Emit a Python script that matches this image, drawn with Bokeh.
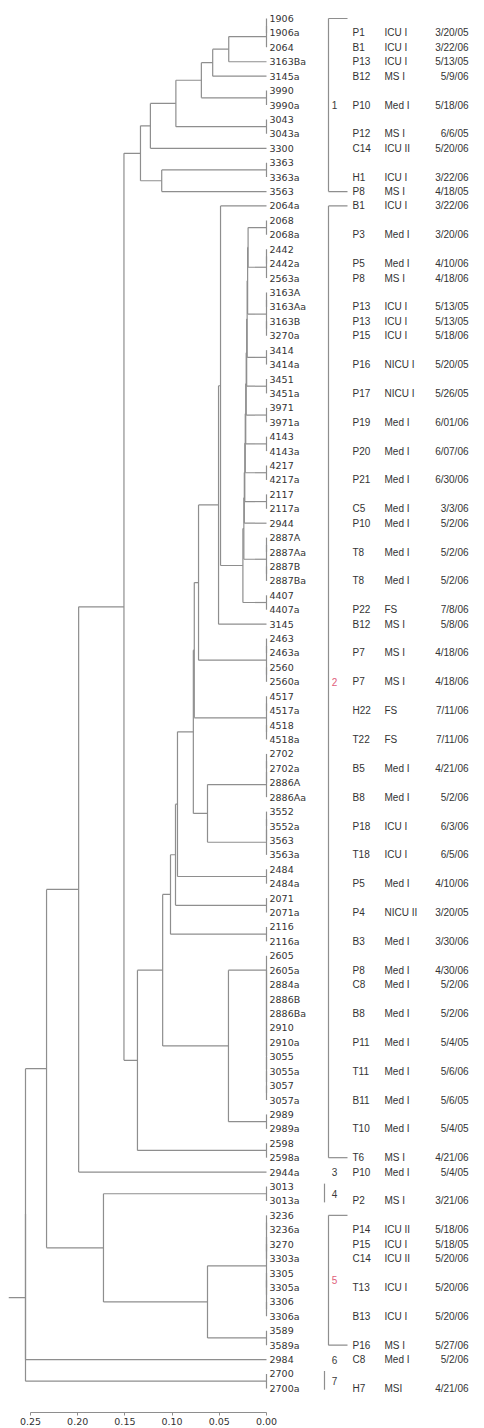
from bokeh.plotting import figure
from bokeh.models import Range1d, FixedTicker, PrintfTickFormatter
from bokeh.core.properties import value
from bokeh.embed import file_html
from bokeh.resources import INLINE

# ---------------- data ----------------
LEAVES = ["1906", "1906a", "2064", "3163Ba", "3145a", "3990", "3990a", "3043", "3043a", "3300",
          "3363", "3363a", "3563", "2064a", "2068", "2068a", "2442", "2442a", "2563a", "3163A",
          "3163Aa", "3163B", "3270a", "3414", "3414a", "3451", "3451a", "3971", "3971a", "4143",
          "4143a", "4217", "4217a", "2117", "2117a", "2944", "2887A", "2887Aa", "2887B", "2887Ba",
          "4407", "4407a", "3145", "2463", "2463a", "2560", "2560a", "4517", "4517a", "4518",
          "4518a", "2702", "2702a", "2886A", "2886Aa", "3552", "3552a", "3563", "3563a", "2484",
          "2484a", "2071", "2071a", "2116", "2116a", "2605", "2605a", "2884a", "2886B", "2886Ba",
          "2910", "2910a", "3055", "3055a", "3057", "3057a", "2989", "2989a", "2598", "2598a",
          "2944a", "3013", "3013a", "3236", "3236a", "3270", "3303a", "3305", "3305a", "3306",
          "3306a", "3589", "3589a", "2984", "2700", "2700a"]

ROW_LEAF = [1, 2, 3, 4, 6, 8, 9, 11, 12, 13, 15, 17, 18, 20, 21, 22, 24, 26, 28, 30, 32, 34, 35,
            37, 39, 41, 42, 44, 46, 48, 50, 52, 54, 56, 58, 60, 62, 64, 66, 67, 69, 71, 73, 75,
            77, 79, 80, 82, 84, 85, 86, 88, 90, 92, 93, 95]
ROW_ID = ["P1", "B1", "P13", "B12", "P10", "P12", "C14", "H1", "P8", "B1", "P3", "P5", "P8",
          "P13", "P13", "P15", "P16", "P17", "P19", "P20", "P21", "C5", "P10", "T8", "T8", "P22",
          "B12", "P7", "P7", "H22", "T22", "B5", "B8", "P18", "T18", "P5", "P4", "B3", "P8", "C8",
          "B8", "P11", "T11", "B11", "T10", "T6", "P10", "P2", "P14", "P15", "C14", "T13", "B13",
          "P16", "C8", "H7"]
ROW_UNIT = ["ICU I", "ICU I", "ICU I", "MS I", "Med I", "MS I", "ICU II", "ICU I", "MS I", "ICU I",
            "Med I", "Med I", "MS I", "ICU I", "ICU I", "ICU I", "NICU I", "NICU I", "Med I",
            "Med I", "Med I", "Med I", "Med I", "Med I", "Med I", "FS", "MS I", "MS I", "MS I",
            "FS", "FS", "Med I", "Med I", "ICU I", "ICU I", "Med I", "NICU II", "Med I", "Med I",
            "Med I", "Med I", "Med I", "Med I", "Med I", "Med I", "MS I", "Med I", "MS I",
            "ICU II", "ICU I", "ICU II", "ICU I", "ICU I", "MS I", "Med I", "MSI"]
ROW_DATE = ["3/20/05", "3/22/06", "5/13/05", "5/9/06", "5/18/06", "6/6/05", "5/20/06", "3/22/06",
            "4/18/05", "3/22/06", "3/20/06", "4/10/06", "4/18/06", "5/13/05", "5/13/05",
            "5/18/06", "5/20/05", "5/26/05", "6/01/06", "6/07/06", "6/30/06", "3/3/06", "5/2/06",
            "5/2/06", "5/2/06", "7/8/06", "5/8/06", "4/18/06", "4/18/06", "7/11/06", "7/11/06",
            "4/21/06", "5/2/06", "6/3/06", "6/5/06", "4/10/06", "3/20/05", "3/30/06", "4/30/06",
            "5/2/06", "5/2/06", "5/4/05", "5/6/06", "5/6/05", "5/4/05", "4/21/06", "5/4/05",
            "3/21/06", "5/18/06", "5/18/05", "5/20/06", "5/20/06", "5/20/06", "5/27/06", "5/2/06",
            "4/21/06"]

CLUSTER_LABEL = ["1", "2", "3", "4", "5", "6", "7"]
CLUSTER_FIRST = [0, 13, 80, 81, 83, 93, 94]
CLUSTER_LAST = [12, 79, 80, 82, 92, 93, 95]
CLUSTER_STYLE = ["bracket", "bracket", "none", "bar", "bracket", "none", "bar"]
CLUSTER_COLOR = ["#3a3a3a", "#e0607a", "#3a3a3a", "#3a3a3a", "#e0607a", "#3a3a3a", "#3a3a3a"]

AXIS_TICKS = [0.0, 0.05, 0.10, 0.15, 0.20, 0.25]


# --------- tree topology (height, upper child, lower child); ints = leaf indices ---------
def pair(i):
    return (0.0, i, i + 1)


def bal(a, b):
    if a == b:
        return a
    m = (a + b) // 2 + 1
    return (0.0, bal(a, m - 1), bal(m, b))


def lcat(a, b):
    node = a
    for i in range(a + 1, b + 1):
        node = (0.0, node, i)
    return node


def rcat(a, b):
    node = b
    for i in range(b - 1, a - 1, -1):
        node = (0.0, i, node)
    return node


A = (0.040, bal(0, 2), 3)
B = (0.057, A, 4)
C = (0.069, B, pair(5))
D = (0.096, C, pair(7))
E = (0.123, D, 9)
G = (0.111, pair(10), 12)
F = (0.1335, E, G)

c1 = (0.0195, pair(14), bal(16, 18))
c2 = (0.0200, c1, bal(19, 22))
c3 = (0.0205, c2, pair(23))
c4 = (0.0210, c3, pair(25))
c5 = (0.0215, c4, pair(27))
c6 = (0.0220, c5, pair(29))
c7 = (0.0225, c6, pair(31))
c8 = (0.0230, c7, pair(33))
c9 = (0.0235, c8, 35)
c10 = (0.0240, c9, bal(36, 39))
X = (0.025, c10, pair(40))
n1 = (0.0487, 13, X)
n2 = (0.0508, n1, 42)
P = (0.072, n2, bal(43, 46))
Qa = (0.0765, P, bal(47, 50))
N207 = (0.0625, lcat(51, 54), lcat(55, 58))
Qb = (0.0775, Qa, N207)
R = (0.0943, Qb, pair(59))
S = (0.0964, R, pair(61))
T = (0.1017, S, pair(63))
U = (0.0403, rcat(65, 75), pair(76))
J = (0.110, T, U)
I = (0.1367, J, pair(78))
H = (0.151, F, I)
K = (0.199, H, 80)
M = (0.0625, bal(83, 90), pair(91))
L = (0.1727, pair(81), M)
N = (0.233, K, L)
ROOT1 = (0.2553, N, 93)
ROOT = (0.2553, ROOT1, pair(94))
ROOT_STEM = 0.018

# ---------------- layout constants ----------------
PX = 944.0          # pixels per distance unit
MARGIN = 8
FW, FH = 468, 1404
X0 = 258.0          # frame px of distance 0
Y0, DY = 10.0, 14.42

vx0, vx1, vy0, vy1 = [], [], [], []


def build(node):
    if isinstance(node, int):
        return float(node), 0.0
    h, a, b = node
    ya, ha = build(a)
    yb, hb = build(b)
    for (yy, hh) in ((ya, ha), (yb, hb)):
        vx0.append(hh); vx1.append(h); vy0.append(yy); vy1.append(yy)
    vx0.append(h); vx1.append(h); vy0.append(ya); vy1.append(yb)
    return (ya + yb) / 2.0, h


ry, rh = build(ROOT)
vx0.append(rh); vx1.append(rh + ROOT_STEM); vy0.append(ry); vy1.append(ry)

p = figure(frame_width=FW, frame_height=FH, output_backend="svg", toolbar_location=None,
           x_range=Range1d(X0 / PX, (X0 - FW) / PX),
           y_range=Range1d((FH - Y0) / DY, -Y0 / DY),
           min_border=0, min_border_left=MARGIN, min_border_top=MARGIN,
           y_axis_location=None)
p.outline_line_color = None
p.grid.visible = False
p.background_fill_color = "white"

LINE = "#8e8e8e"
TXT = "#333333"
LEAF_FONT = value("DejaVu Sans")
TAB_FONT = value("Liberation Sans")

p.segment(x0=vx0, y0=vy0, x1=vx1, y1=vy1, line_color=LINE, line_width=1.2)

# leaf labels
p.text(x=[0.0] * len(LEAVES), y=list(range(len(LEAVES))), text=LEAVES, x_offset=3,
       text_font=LEAF_FONT, text_font_size="9.5px", text_color=TXT, text_baseline="middle",
       text_align="left")

# table columns
ry_rows = [float(i) for i in ROW_LEAF]
p.text(x=[0.0] * len(ROW_ID), y=ry_rows, text=ROW_ID, x_offset=86, text_font=TAB_FONT,
       text_font_size="10px", text_color=TXT, text_baseline="middle", text_align="left")
p.text(x=[0.0] * len(ROW_UNIT), y=ry_rows, text=ROW_UNIT, x_offset=118, text_font=TAB_FONT,
       text_font_size="10px", text_color=TXT, text_baseline="middle", text_align="left")
p.text(x=[0.0] * len(ROW_DATE), y=ry_rows, text=ROW_DATE, x_offset=202, text_font=TAB_FONT,
       text_font_size="10px", text_color=TXT, text_baseline="middle", text_align="right")

# cluster brackets
bx = -62.0 / PX
tick_end = -81.0 / PX
barx = -58.0 / PX
sx0, sx1, sy0, sy1 = [], [], [], []
lab_y = []
for lab, a, b, st in zip(CLUSTER_LABEL, CLUSTER_FIRST, CLUSTER_LAST, CLUSTER_STYLE):
    if st == "bracket":
        sx0 += [bx, bx, bx]; sx1 += [bx, tick_end, tick_end]
        sy0 += [a, a, b]; sy1 += [b, a, b]
    elif st == "bar":
        sx0.append(barx); sx1.append(barx); sy0.append(a - 0.2); sy1.append(b + 0.1)
    lab_y.append((a + b) / 2.0)
p.segment(x0=sx0, y0=sy0, x1=sx1, y1=sy1, line_color=LINE, line_width=1.2)
p.text(x=[0.0] * len(CLUSTER_LABEL), y=lab_y, text=CLUSTER_LABEL, x_offset=68,
       text_font=TAB_FONT, text_font_size="10px", text_color=CLUSTER_COLOR,
       text_baseline="middle", text_align="center")

# axis
ax = p.xaxis[0]
ax.ticker = FixedTicker(ticks=AXIS_TICKS)
ax.formatter = PrintfTickFormatter(format="%.2f")
ax.bounds = (0.0, 0.25)
ax.axis_line_color = LINE
ax.major_tick_line_color = LINE
ax.minor_tick_line_color = None
ax.major_tick_out = 3
ax.major_tick_in = 0
ax.major_label_standoff = 2
ax.major_label_text_font = "DejaVu Sans"
ax.major_label_text_font_size = "9.5px"
ax.major_label_text_color = TXT

open("out.html", "w").write(file_html(p, INLINE))
